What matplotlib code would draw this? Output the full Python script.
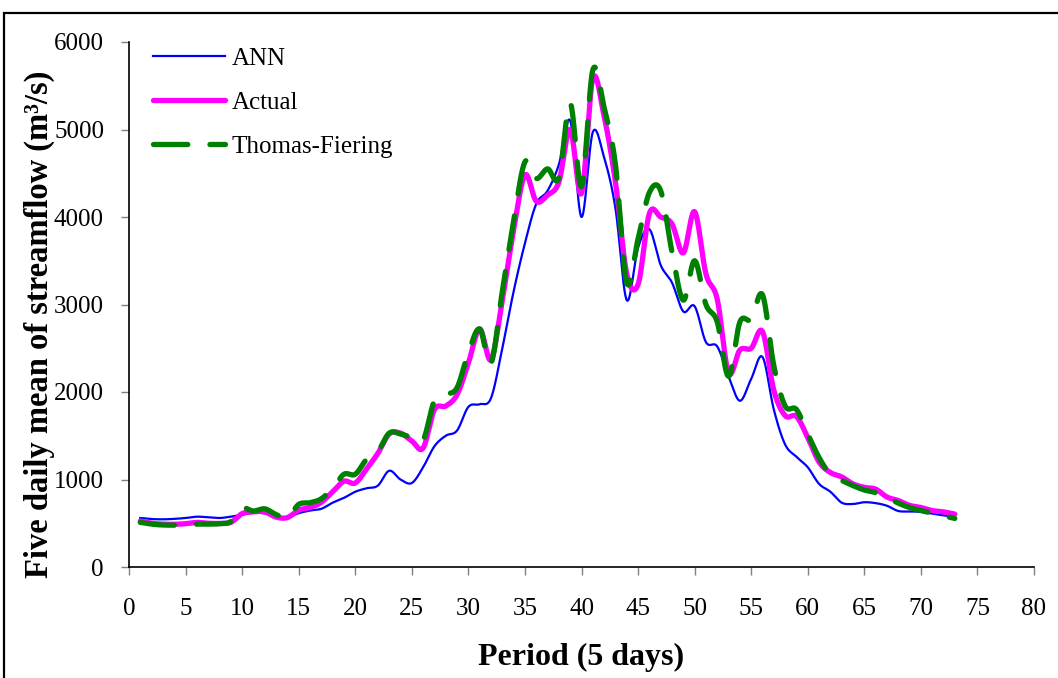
import numpy as np
import matplotlib
matplotlib.use("Agg")
import matplotlib.pyplot as plt
from matplotlib.patches import Rectangle

periods = list(range(1, 74))
ann = [560, 548, 545, 550, 560, 575, 568, 560, 575, 598,
       620, 612, 582, 570, 615, 645, 665, 735, 790, 860,
       900, 930, 1100, 1000, 960, 1140, 1380, 1500, 1560, 1830,
       1860, 1930, 2500, 3150, 3700, 4150, 4300, 4600, 5100, 4000,
       4970, 4680, 4100, 3050, 3650, 3860, 3450, 3250, 2920, 2980,
       2570, 2520, 2180, 1900, 2150, 2400, 1800, 1400, 1260, 1140,
       950, 860, 735, 720, 740, 730, 700, 640, 635, 630,
       610, 590, 575]
actual = [525, 500, 490, 488, 495, 510, 500, 498, 510, 610,
          630, 630, 570, 565, 650, 680, 740, 860, 980, 960,
          1120, 1300, 1520, 1530, 1440, 1360, 1800, 1840, 1970, 2330,
          2720, 2370, 3050, 3850, 4480, 4180, 4250, 4400, 5000, 4270,
          5580, 5150, 4400, 3350, 3230, 4040, 4000, 3920, 3590, 4060,
          3350, 3060, 2220, 2480, 2500, 2690, 2020, 1730, 1720, 1480,
          1200, 1080, 1030, 950, 910, 890, 800, 760, 705, 680,
          645, 630, 605]
thomas = [510, 490, 480, 478, 480, 490, 490, 495, 520, 670,
          640, 665, 600, 560, 715, 735, 780, 900, 1060, 1060,
          1230, 1320, 1530, 1520, 1480, 1450, 1900, 1970, 2050, 2450,
          2720, 2330, 3150, 3950, 4630, 4440, 4550, 4450, 5300, 4350,
          5680, 5250, 4600, 3250, 3750, 4280, 4300, 3600, 3050, 3500,
          3000, 2800, 2180, 2800, 2830, 3110, 2300, 1840, 1800, 1520,
          1250, 1060, 990, 930, 880, 850, 800, 730, 680, 645,
          615, 585, 555]
series_names = ["ANN", "Actual", "Thomas-Fiering"]
xticks = list(range(0, 81, 5))
yticks = list(range(0, 6001, 1000))


def smooth(x, y, n=24):
    """Catmull-Rom smoothing for drawing (like Excel's smoothed line)."""
    x = np.asarray(x, float)
    y = np.asarray(y, float)
    px = np.concatenate([[2 * x[0] - x[1]], x, [2 * x[-1] - x[-2]]])
    py = np.concatenate([[2 * y[0] - y[1]], y, [2 * y[-1] - y[-2]]])
    xs, ys = [], []
    t = np.linspace(0, 1, n, endpoint=False)
    for i in range(1, len(px) - 2):
        for P, out in ((px, xs), (py, ys)):
            p0, p1, p2, p3 = P[i - 1], P[i], P[i + 1], P[i + 2]
            out.append(0.5 * ((2 * p1) + (-p0 + p2) * t
                              + (2 * p0 - 5 * p1 + 4 * p2 - p3) * t ** 2
                              + (-p0 + 3 * p1 - 3 * p2 + p3) * t ** 3))
    xs.append([x[-1]])
    ys.append([y[-1]])
    return np.concatenate(xs), np.concatenate(ys)


plt.rcParams['font.family'] = ['Liberation Serif', 'DejaVu Serif']

W, H = 1058, 678
fig = plt.figure(figsize=(W / 100, H / 100), dpi=100)
ax = fig.add_axes([129 / W, 1 - 567 / H, (1034 - 129) / W, (567 - 42) / H])

sx, sy = smooth(periods, ann)
ax.plot(sx, sy, color='#0000FF', lw=1.6, label=series_names[0])
sx, sy = smooth(periods, actual)
ax.plot(sx, sy, color='#FF00FF', lw=3.8, solid_capstyle='round', label=series_names[1])
sx, sy = smooth(periods, thomas)
ax.plot(sx, sy, color='#008000', lw=3.8, dashes=(6.5, 4.2), dash_capstyle='round',
        label=series_names[2])

ax.set_xlim(0, 80)
ax.set_ylim(0, 6000)
ax.set_xticks(xticks)
ax.set_yticks(yticks)
ax.tick_params(axis='both', direction='out', length=6, width=1, color='#808080',
               labelsize=18)
ax.tick_params(axis='x', pad=16)
ax.tick_params(axis='y', pad=12)
for s in ['top', 'right']:
    ax.spines[s].set_visible(False)
for s in ['left', 'bottom']:
    ax.spines[s].set_linewidth(1.2)
    ax.spines[s].set_color('black')

ax.set_xlabel('Period (5 days)', fontsize=23, fontweight='bold', va='center')
ax.xaxis.set_label_coords(0.5, -0.172)
ax.set_ylabel('Five daily mean of streamflow (m\u00b3/s)', fontsize=23.5,
              fontweight='bold', va='center')
ax.yaxis.set_label_coords(-0.099, 0.462)

leg = ax.legend(loc='upper left', bbox_to_anchor=(0.0265, 0.99), frameon=False,
                fontsize=18, handlelength=2.9, handletextpad=0.25,
                labelspacing=0.86, borderpad=0, borderaxespad=0)

fig.patches.append(Rectangle((4 / W, -0.05), 2.0, 1 - 13 / H + 0.05,
                             transform=fig.transFigure, fill=False,
                             edgecolor='black', lw=1.6))

fig.savefig('out.png', dpi=100)
